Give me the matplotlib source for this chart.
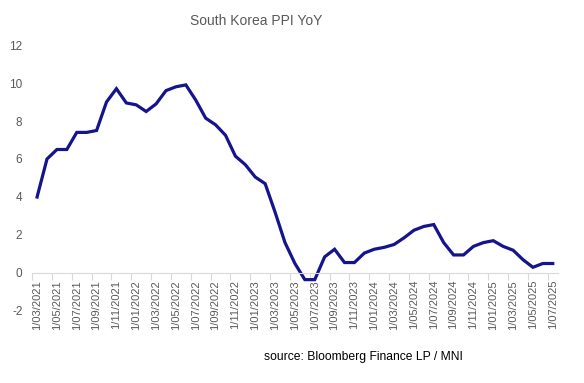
import matplotlib
matplotlib.use("Agg")
import matplotlib.pyplot as plt
import numpy as np

dates = ["1/03/2021","1/04/2021","1/05/2021","1/06/2021","1/07/2021","1/08/2021","1/09/2021","1/10/2021","1/11/2021","1/12/2021",
         "1/01/2022","1/02/2022","1/03/2022","1/04/2022","1/05/2022","1/06/2022","1/07/2022","1/08/2022","1/09/2022","1/10/2022","1/11/2022","1/12/2022",
         "1/01/2023","1/02/2023","1/03/2023","1/04/2023","1/05/2023","1/06/2023","1/07/2023","1/08/2023","1/09/2023","1/10/2023","1/11/2023","1/12/2023",
         "1/01/2024","1/02/2024","1/03/2024","1/04/2024","1/05/2024","1/06/2024","1/07/2024","1/08/2024","1/09/2024","1/10/2024","1/11/2024","1/12/2024",
         "1/01/2025","1/02/2025","1/03/2025","1/04/2025","1/05/2025","1/06/2025","1/07/2025"]
ppi_yoy = [4.0, 6.0, 6.5, 6.5, 7.4, 7.4, 7.5, 9.0, 9.7, 8.95,
           8.85, 8.5, 8.9, 9.6, 9.8, 9.9, 9.1, 8.15, 7.8, 7.25, 6.15, 5.7,
           5.05, 4.7, 3.2, 1.6, 0.5, -0.35, -0.35, 0.85, 1.25, 0.55, 0.55, 1.05,
           1.25, 1.35, 1.5, 1.85, 2.25, 2.45, 2.55, 1.6, 0.95, 0.95, 1.4, 1.6,
           1.7, 1.4, 1.2, 0.7, 0.3, 0.5, 0.5]
y_ticks = [-2, 0, 2, 4, 6, 8, 10, 12]

plt.rcParams['font.family'] = ['Liberation Sans', 'DejaVu Sans']
fig = plt.figure(figsize=(5.84, 3.83), dpi=100)
ax = fig.add_axes([0.055, 0.188, 0.9, 0.6945])

x = np.arange(len(ppi_yoy))
ax.plot(x, ppi_yoy, color='#14148C', lw=2.3, solid_joinstyle='miter')

ax.set_xlim(-0.5, len(ppi_yoy) - 0.5)
ax.set_ylim(-2, 12)
ax.set_yticks(y_ticks)
ax.set_yticklabels([str(v) for v in y_ticks])

ax.set_xticks(x[::2])
ax.set_xticklabels(dates[::2])
ax.set_xticks(np.arange(-0.5, len(ppi_yoy), 2), minor=True)
ax.tick_params(axis='x', which='major', length=0, labelsize=8, colors='#595959', pad=5, labelrotation=90)
ax.tick_params(axis='x', which='minor', length=5, color='#D9D9D9', width=0.8, direction='out')
ax.tick_params(axis='y', length=0, labelsize=8.5, colors='#595959', pad=7)
for lbl in ax.get_xticklabels():
    lbl.set_ha('center')
    lbl.set_va('top')

for s in ['top', 'right', 'left']:
    ax.spines[s].set_visible(False)
ax.spines['bottom'].set_position(('data', 0))
ax.spines['bottom'].set_color('#D9D9D9')
ax.spines['bottom'].set_linewidth(0.8)

fig.text(0.438, 0.945, "South Korea PPI YoY", ha='center', va='center', fontsize=10, color='#595959')
fig.text(0.452, 0.068, "source: Bloomberg Finance LP / MNI", ha='left', va='center', fontsize=8.7, color='black')

fig.savefig("out.png", dpi=100)
